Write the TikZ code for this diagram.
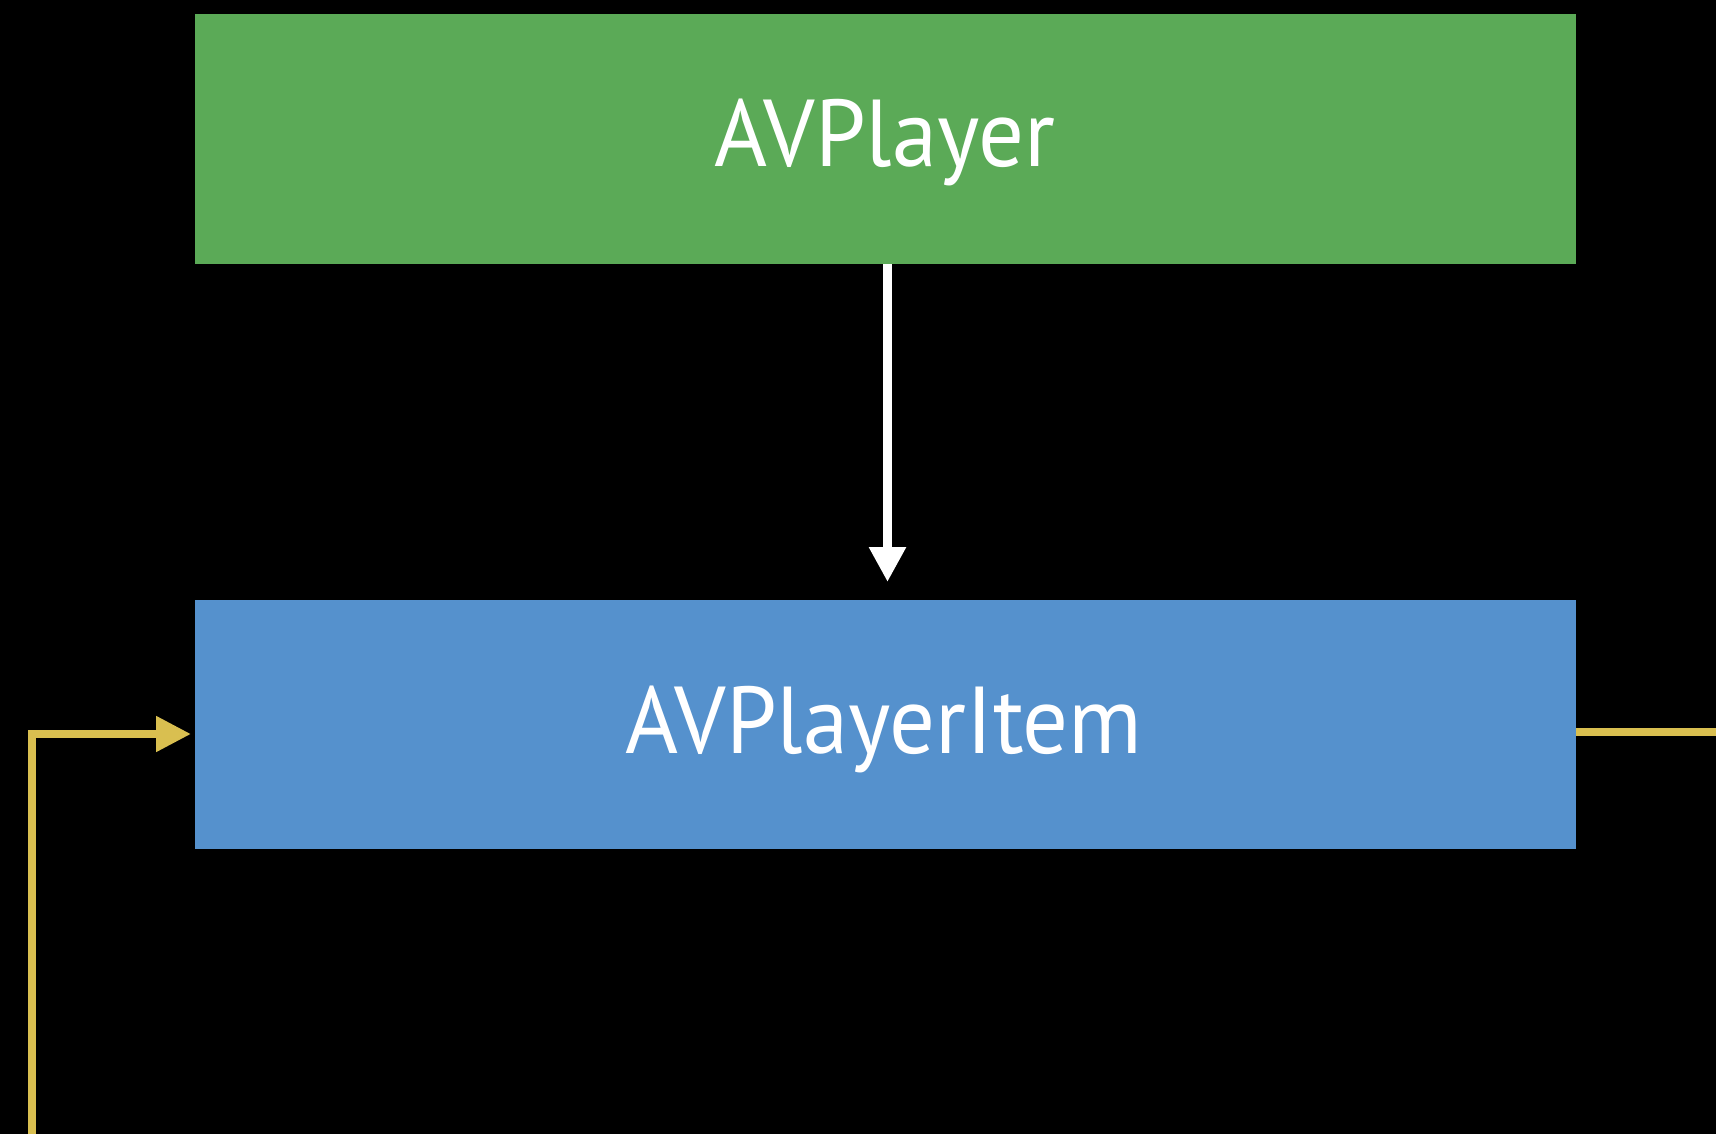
\documentclass[tikz,border=0pt]{standalone}
\usepackage{fontspec}
\setmainfont{PT Sans}
\usetikzlibrary{arrows.meta,calc}
\definecolor{boxgreen}{HTML}{5BAA57}
\definecolor{boxblue}{HTML}{5591CD}
\definecolor{linkyellow}{HTML}{D9BF50}
\tikzset{
  boxnode/.style={draw=none, minimum width=1381pt, minimum height=250pt, inner sep=0pt, anchor=north west},
  boxlabel/.style={text=white, font=\fontsize{95}{95}\selectfont, anchor=base, inner sep=0pt},
  whitearrow/.style={draw=white, line width=9pt, -{Triangle[length=35pt,width=35pt]}},
  yellowarrow/.style={draw=linkyellow, line width=8pt, -{Triangle[length=35pt,width=34pt]}},
  yellowline/.style={draw=linkyellow, line width=8pt}
}
\begin{document}
\begin{tikzpicture}[x=1pt,y=-1pt]
\fill[black] (0,0) rectangle (1716,1134);
\useasboundingbox (0,0) rectangle (1716,1134);
\node[boxnode, fill=boxgreen] (player) at (195,14) {};
\node[boxnode, fill=boxblue, minimum height=249pt] (item) at (195,600) {};
\node[boxlabel] (playerlabel) at (885,167) {\scalebox{0.955}[1]{AVPlayer}};
\node[boxlabel] (itemlabel) at (884,753) {\scalebox{0.955}[1]{AVPlayerItem}};
\draw[whitearrow, shorten >=18pt] (player.south -| 887.5,0) -- (item.north -| 887.5,0);
\coordinate (loopbottom) at (32,1134);
\coordinate (loopin) at (195,734);
\coordinate (outend) at (1716,731.5);
\draw[yellowarrow, shorten >=4pt] (loopbottom) |- (loopin);
\draw[yellowline] (item.east |- outend) -- (outend);
\end{tikzpicture}
\end{document}
